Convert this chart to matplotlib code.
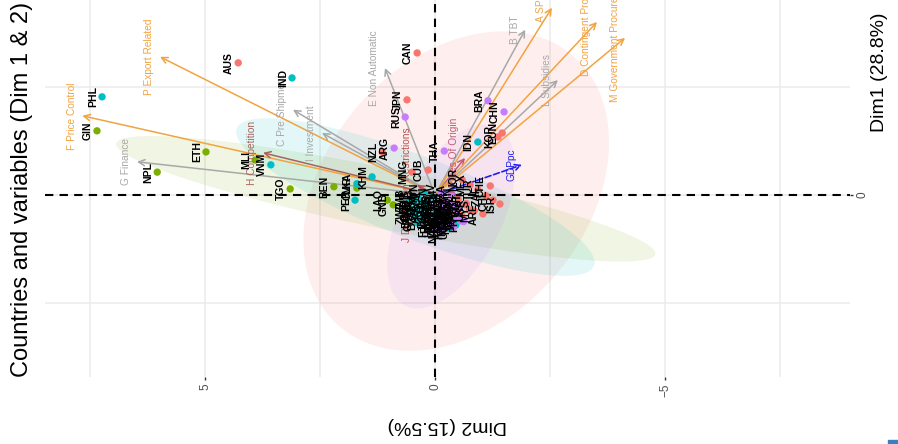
import numpy as np
import matplotlib.pyplot as plt
from matplotlib.patches import Rectangle

plt.rcParams["font.family"] = ["Liberation Sans", "DejaVu Sans"]

# country scores (Dim1, Dim2) and cluster
countries = ["GIN", "PHL", "ETH", "NPL", "MLI", "VNM", "TGO", "AUS", "IND", "CAN",
             "JPN", "RUS", "NZL", "ARG", "THA", "BRA", "CHN", "IDN", "KOR", "EUN",
             "BEN", "CMR", "PER", "KHM", "LKA", "LAO", "GNB", "CUB", "MNG",
             "MEX", "TUR", "ZAF", "CHL", "ISR", "SGP", "MYS", "SAU", "ARE", "CHE", "NOR",
             "ALB", "ARM", "AZE", "BGD", "BOL", "COL", "DOM", "ECU", "EGY", "GEO",
             "GTM", "HND", "JAM", "JOR", "KAZ", "KEN", "KGZ", "MAR", "MDG", "MUS",
             "NIC", "OMN", "PAK", "PAN", "PRY", "QAT", "SEN", "SLV", "TUN", "TZA",
             "UKR", "URY", "BHR", "BLR", "BRN", "CIV", "FJI", "GAB", "GHA", "KWT",
             "LBN", "MDA", "MKD", "MLT", "MOZ", "NAM", "NGA", "RWA", "TTO", "UGA",
             "ZMB", "ZWE"]
dim1 = [1.49, 2.28, 1.00, 0.53, 0.81, 0.70, 0.14, 3.07, 2.72, 3.30,
        2.21, 1.81, 1.00, 1.09, 1.02, 2.19, 1.93, 1.23, 1.35, 1.44,
        0.19, 0.16, -0.12, 0.42, 0.26, -0.12, -0.23, 0.58, 0.53,
        0.23, 0.12, -0.02, -0.12, -0.21, -0.23, -0.37, -0.42, -0.44, 0.21, 0.35,
        -0.10, -0.25, -0.40, -0.55, -0.15, -0.30, -0.48, -0.62, -0.20, -0.38,
        -0.55, -0.72, -0.12, -0.30, -0.45, -0.62, -0.78, -0.22, -0.38, -0.55,
        -0.70, -0.10, -0.28, -0.48, -0.62, -0.20, -0.05, 0.05, 0.05, 0.02,
        -0.35, -0.35, -0.15, -0.33, -0.50, -0.65, -0.80, -0.25, -0.42, -0.58,
        -0.72, -0.18, -0.36, -0.52, -0.68, -0.85, -0.30, -0.46, -0.60, -0.75,
        -0.12, -0.40]
dim2 = [7.35, 7.24, 4.98, 6.04, 3.91, 3.57, 3.15, 4.28, 3.11, 0.39,
        0.61, 0.65, 1.15, 0.89, -0.20, -1.15, -1.50, -0.93, -1.37, -1.46,
        2.20, 1.70, 1.74, 1.37, 1.70, 1.04, 0.91, 0.15, 0.50,
        -0.76, -0.93, -1.11, -1.26, -1.41, -0.67, -0.85, -0.50, -1.04, -1.20, -0.59,
        0.35, 0.28, 0.22, 0.30, 0.18, 0.12, 0.08, 0.02, -0.05, -0.02,
        -0.10, -0.08, -0.18, -0.15, -0.22, -0.25, -0.30, -0.32, -0.38, -0.40,
        -0.45, -0.50, -0.52, -0.58, -0.62, -0.68, 0.05, -0.12, 0.25, -0.35,
        -0.75, 0.40, 0.48, 0.45, 0.42, 0.38, 0.05, -0.02, -0.06, -0.12,
        -0.20, -0.28, -0.26, -0.30, -0.35, -0.15, -0.42, -0.48, -0.55, -0.40,
        0.55, 0.55]
cluster = [2, 3, 2, 2, 2, 3, 2, 1, 3, 1,
           1, 4, 1, 4, 4, 4, 4, 3, 1, 1,
           2, 2, 3, 3, 3, 2, 2, 1, 1,
           1, 1, 1, 1, 1, 1, 1, 1, 1, 1, 1,
           3, 3, 3, 3, 3, 4, 3, 3, 4, 3,
           3, 4, 4, 4, 4, 4, 3, 4, 1, 4,
           3, 1, 4, 1, 4, 1, 3, 4, 3, 4,
           1, 3, 3, 3, 3, 3, 4, 4, 4, 4,
           4, 4, 4, 4, 4, 4, 4, 4, 4, 4,
           3, 3]

# confidence ellipses per cluster: centre Dim1, centre Dim2, semi axes, angle
ell_dim1 = [0.09, -0.09, -0.05, -0.50]
ell_dim2 = [-0.46, 1.07, 0.43, -0.35]
ell_a = [4.05, 6.0, 4.2, 2.3]
ell_b = [2.9, 0.7, 0.95, 1.1]
ell_angle = [125, 12.4, 22.5, 115]

# variable loadings
variables = ["F Price Control", "P Export Related", "G Finance", "H Competition",
             "C Pre Shipment", "I Investment", "E Non Automatic",
             "J Distribution Restrictions", "O Rules Of Origin", "B TBT", "A SPS",
             "D Contingent Protection", "L Subsidies", "M Government Procurement"]
var_dim1 = [1.84, 3.21, 0.77, 0.98, 1.98, 1.44, 2.95, 0.23, 0.86, 3.84, 4.35, 4.02, 2.67, 3.65]
var_dim2 = [7.67, 5.98, 6.48, 3.74, 3.09, 2.46, 1.09, 0.39, -0.65, -1.96, -2.54, -3.52, -2.67, -4.13]
var_colors = ["#F2A341", "#F2A341", "#A8A8A8", "#A8645C", "#A8A8A8", "#A8A8A8", "#A8A8A8",
              "#B5514C", "#BF5B78", "#A8A8A8", "#F2A341", "#F2A341", "#A8A8A8", "#F2A341"]

sup_name = "GDPpc"
sup_dim1 = 0.70
sup_dim2 = -1.89

cl_colors = {1: "#F8766D", 2: "#7CAE00", 3: "#00BFC4", 4: "#C77CFF"}


def main():
    fig = plt.figure(figsize=(8.98, 4.44), dpi=100)
    ax = fig.add_axes([45 / 898, 1 - 377 / 444, 805 / 898, 377 / 444])

    # ellipses
    t = np.linspace(0, 2 * np.pi, 200)
    for i, k in enumerate([1, 2, 3, 4]):
        phi = np.radians(ell_angle[i])
        ex = ell_dim2[i] + ell_a[i] * np.cos(t) * np.cos(phi) - ell_b[i] * np.sin(t) * np.sin(phi)
        ey = ell_dim1[i] + ell_a[i] * np.cos(t) * np.sin(phi) + ell_b[i] * np.sin(t) * np.cos(phi)
        ax.fill(ex, ey, color=cl_colors[k], alpha=0.11, lw=0, zorder=1)

    ax.axhline(0, color="black", ls=(0, (4, 3)), lw=1.5, zorder=2)
    ax.axvline(0, color="black", ls=(0, (4, 3)), lw=1.5, zorder=2)

    # variable arrows
    for name, y, x, c in zip(variables, var_dim1, var_dim2, var_colors):
        ax.annotate("", xy=(x, y), xytext=(0, 0),
                    arrowprops=dict(arrowstyle="->", color=c, lw=1.1,
                                    shrinkA=0, shrinkB=0, mutation_scale=11),
                    zorder=3)
        ax.annotate(name, (x, y), xytext=(-4, 0), textcoords="offset points",
                    rotation=90, ha="right", va="center", fontsize=7.3, color=c,
                    clip_on=True, zorder=5)
    ax.annotate("", xy=(sup_dim2, sup_dim1), xytext=(0, 0),
                arrowprops=dict(arrowstyle="->", color="#1F1FF0", lw=1.2, ls="--",
                                shrinkA=0, shrinkB=0, mutation_scale=10), zorder=3)
    ax.annotate(sup_name, (sup_dim2, sup_dim1), xytext=(-4, 0), textcoords="offset points",
                rotation=90, ha="right", va="center", fontsize=7.3, color="#1F1FF0", zorder=5)

    # countries
    cols = [cl_colors[k] for k in cluster]
    ax.scatter(dim2, dim1, s=28, c=cols, lw=0, zorder=4)
    for name, y, x in zip(countries, dim1, dim2):
        ax.annotate(name, (x, y), xytext=(-3, 0), textcoords="offset points",
                    rotation=90, ha="right", va="center", fontsize=7.5, color="black",
                    fontweight="bold", clip_on=True, zorder=5)

    ax.set_xlim(8.48, -9.02)
    ax.set_ylim(-4.23, 4.53)
    ax.set_xticks([5, 0, -5])
    ax.set_xticklabels(["5", "0", "\u22125"], rotation=90)
    ax.set_xticks([7.5, 2.5, -2.5, -7.5], minor=True)
    ax.yaxis.tick_right()
    ax.set_yticks([0])
    ax.set_yticklabels(["0"], rotation=90, va="center")
    ax.set_yticks([-2.5, 2.5], minor=True)
    ax.grid(True, which="both", color="#EBEBEB", lw=1.1, zorder=0)
    ax.set_axisbelow(True)
    ax.tick_params(which="major", length=2.5, width=1, color="#333333",
                   labelsize=8.5, labelcolor="#4D4D4D", pad=2)
    ax.tick_params(which="minor", length=0)
    for s in ax.spines.values():
        s.set_visible(False)

    fig.text(22 / 898, 1 - 377 / 444, "Countries and variables (Dim 1 & 2)",
             rotation=90, ha="center", va="bottom", fontsize=17)
    fig.text(880 / 898, 1 - 72 / 444, "Dim1 (28.8%)", rotation=90,
             ha="center", va="center", fontsize=14)
    fig.text(447 / 898, 1 - 425 / 444, "Dim2 (15.5%)", rotation=180,
             ha="center", va="center", fontsize=14)
    fig.patches.append(Rectangle((888 / 898, 0), 10 / 898, 4 / 444,
                                 transform=fig.transFigure, color="#3A7FC0"))

    fig.savefig("out.png", dpi=100)


if __name__ == "__main__":
    main()
